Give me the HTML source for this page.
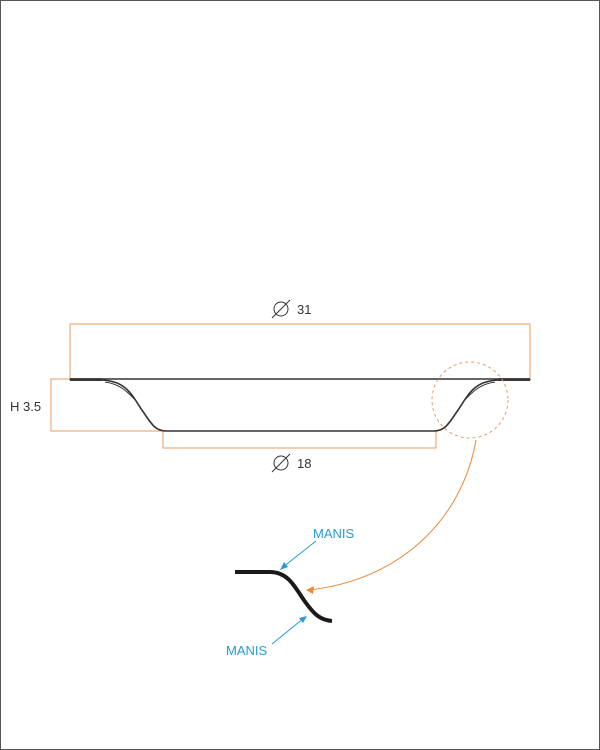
<!DOCTYPE html>
<html><head><meta charset="utf-8"><style>
html,body{margin:0;padding:0;background:#fff}
svg{display:block}
text{font-family:"Liberation Sans",sans-serif}
</style></head><body>
<svg width="600" height="750" viewBox="0 0 600 750">
<rect x="0.5" y="0.5" width="599" height="749" fill="#fff" stroke="#555"/>
<path d="M70,379 V324 H530 V379" fill="none" stroke="#ee9a5e" stroke-width="1"/>
<path d="M163,431 V448 H436 V431" fill="none" stroke="#ee9a5e" stroke-width="1"/>
<path d="M70,379 H51 V431 H163" fill="none" stroke="#ee9a5e" stroke-width="1"/>
<g>
<circle cx="281" cy="309" r="7" fill="none" stroke="#333" stroke-width="1"/>
<line x1="272" y1="318" x2="290" y2="300" stroke="#333"/>
<text x="297" y="314" font-size="13" fill="#333">31</text></g>
<g>
<circle cx="281" cy="463" r="7" fill="none" stroke="#333" stroke-width="1"/>
<line x1="272" y1="472" x2="290" y2="454" stroke="#333"/>
<text x="297" y="468" font-size="13" fill="#333">18</text></g>
<text x="10" y="411" font-size="13" fill="#333">H 3.5</text>
<line x1="71" y1="379" x2="529" y2="379" stroke="#333" stroke-width="1.6"/>
<line x1="71" y1="379.5" x2="101" y2="379.5" stroke="#444" stroke-width="3" stroke-linecap="round"/>
<line x1="499" y1="379.5" x2="529" y2="379.5" stroke="#444" stroke-width="3" stroke-linecap="round"/>
<path d="M70,380 L100,380 C128,380 133,398 144,413 C152,425 156,431 166,431 L434,431 C444,431 448,425 456,413 C467,398 472,380 500,380 L530,380" fill="none" stroke="#333" stroke-width="1.6"/>
<path d="M105,382 C120,384 128,392 137,402" fill="none" stroke="#333" stroke-width="1"/>
<path d="M495,382 C480,384 472,392 463,402" fill="none" stroke="#333" stroke-width="1"/>
<circle cx="470" cy="400" r="38" fill="none" stroke="#ee9a5e" stroke-dasharray="3,3"/>
<path d="M476,440 C462,520 400,580 309,590" fill="none" stroke="#e98a3e" stroke-width="1"/>
<polygon points="306,590 314,586 313,594" fill="#e98a3e"/>
<path d="M235,572 L270,572 C290,572 296,590 306,603 C314,614 320,620 332,621" fill="none" stroke="#1a1a1a" stroke-width="4"/>
<line x1="316" y1="541" x2="283" y2="567" stroke="#2a9ad6"/>
<polygon points="280,570 284,562 288,567" fill="#2a9ad6"/>
<line x1="272" y1="644" x2="304" y2="618" stroke="#2a9ad6"/>
<polygon points="307,616 303,623 299,618" fill="#2a9ad6"/>
<text x="313" y="538" font-size="13" fill="#2a9ad6">MANIS</text>
<text x="226" y="655" font-size="13" fill="#2a9ad6">MANIS</text>
</svg>
</body></html>
